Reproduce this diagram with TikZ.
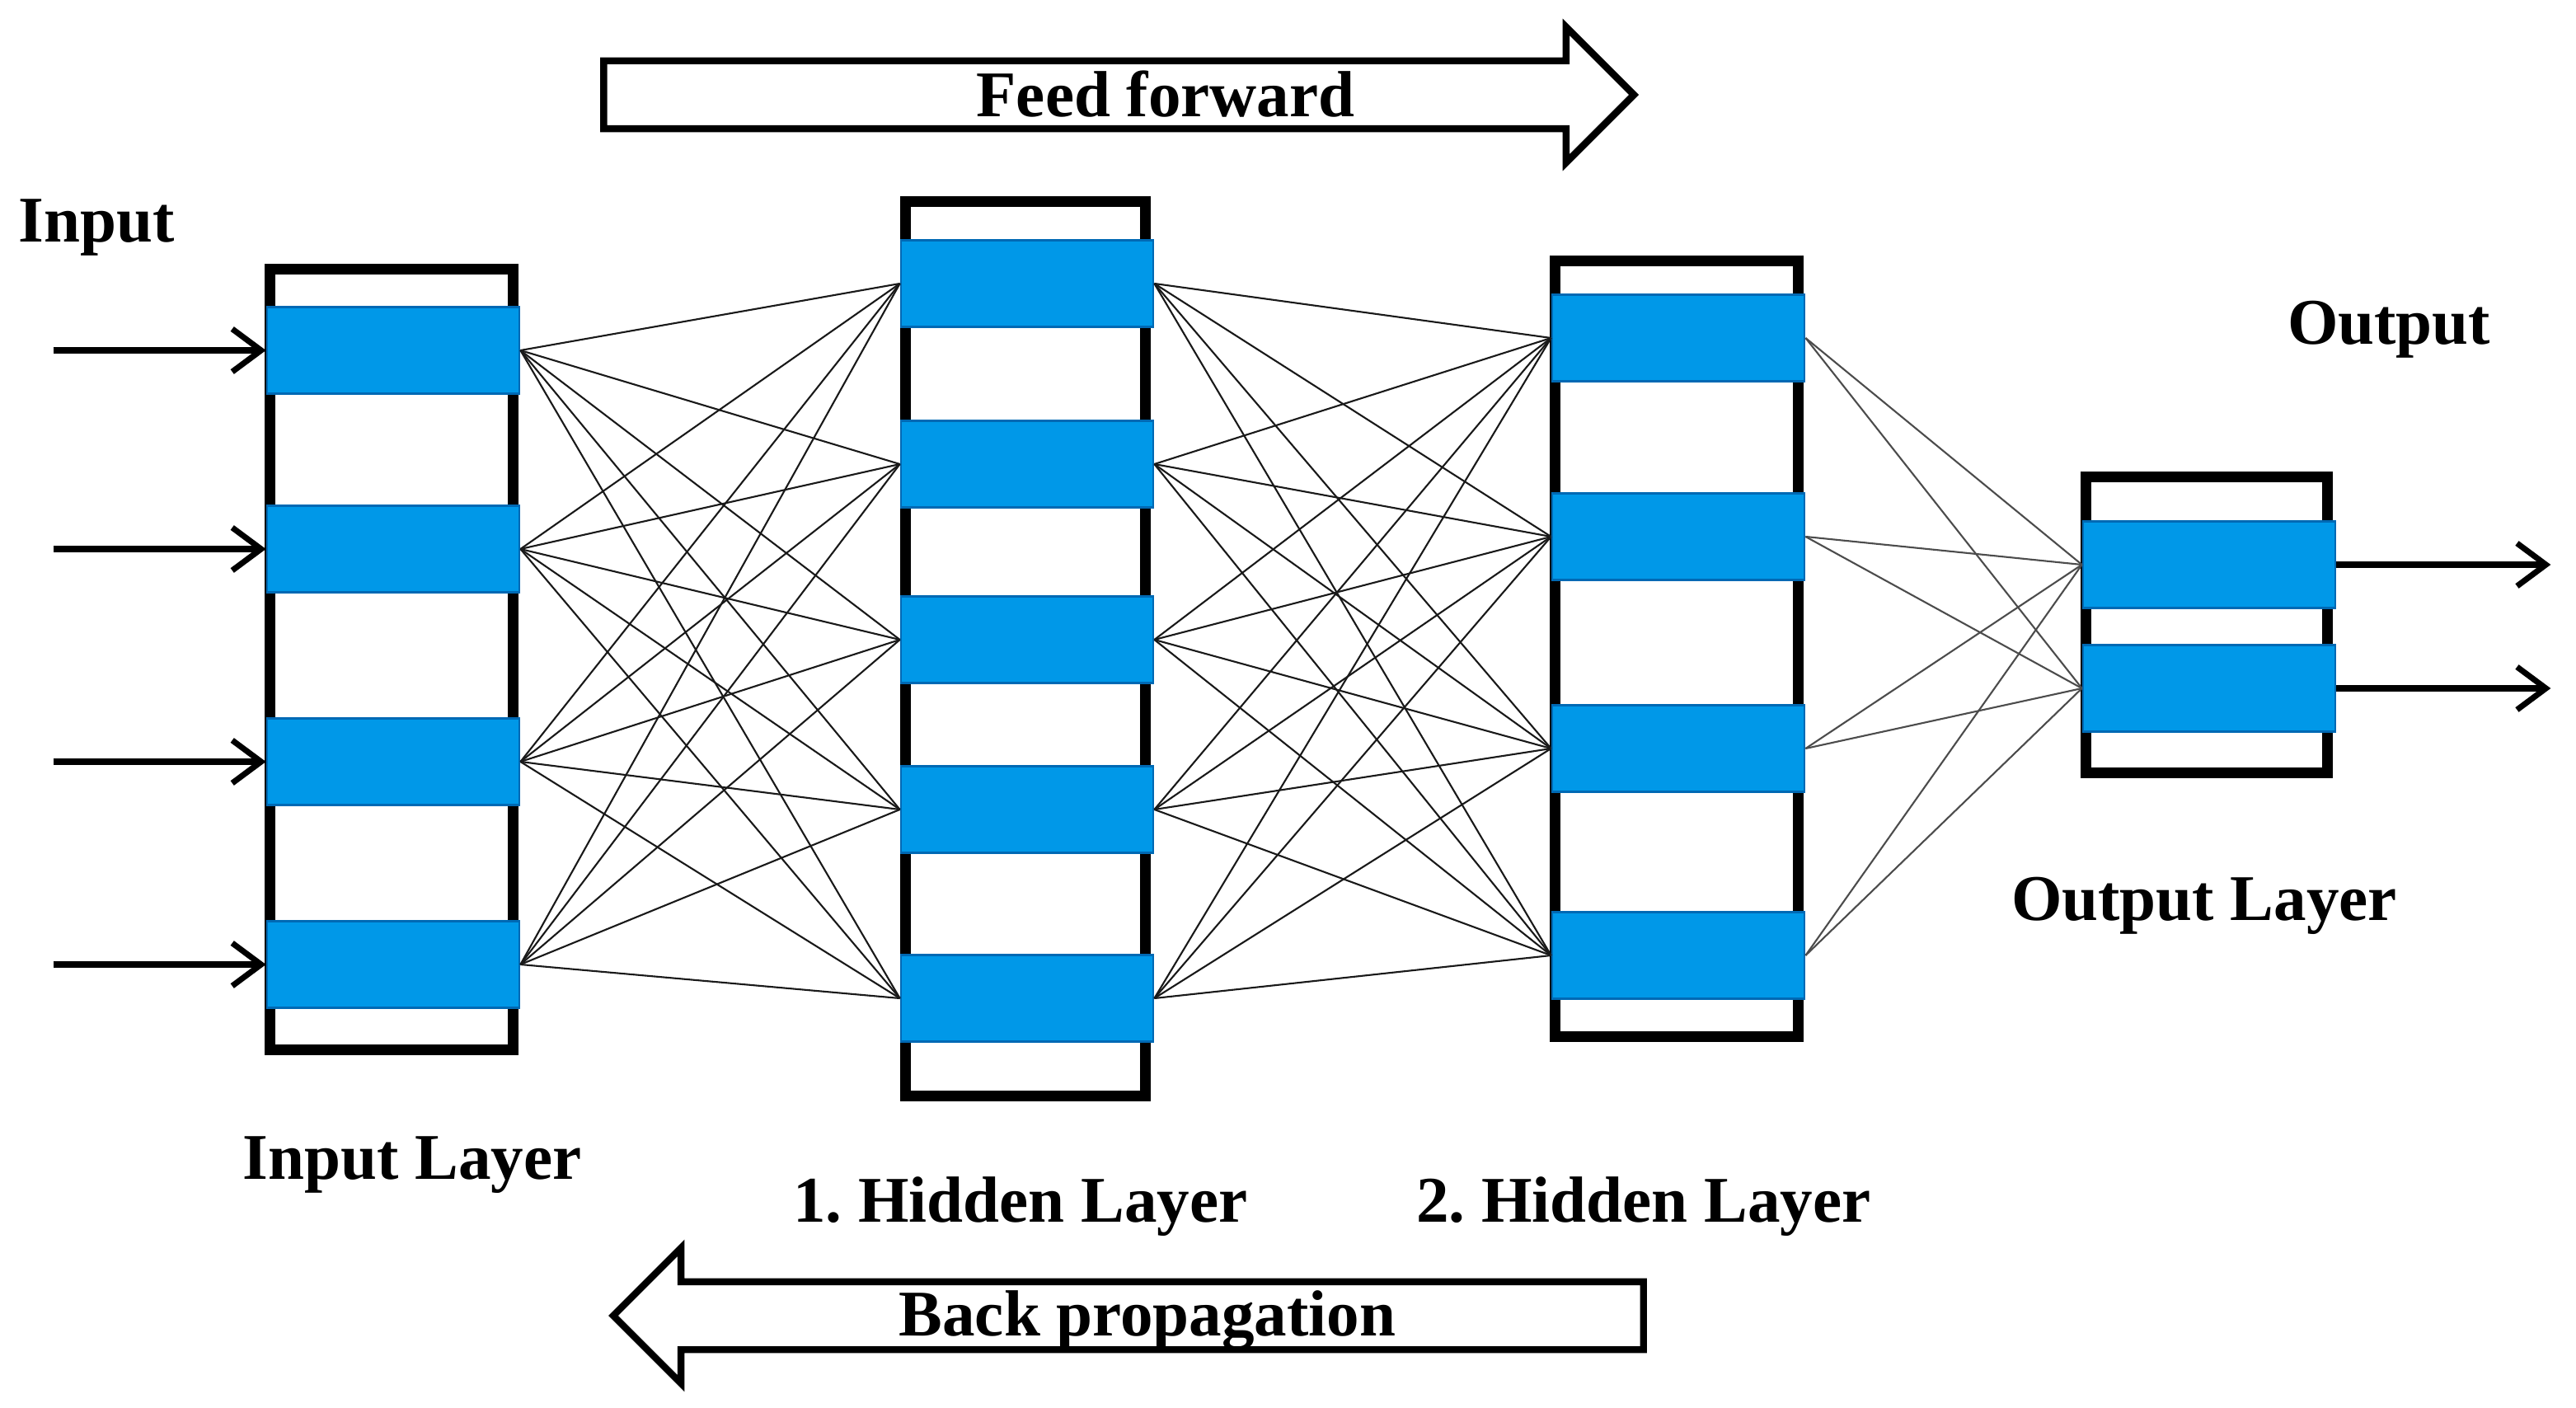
\documentclass[tikz,border=0pt]{standalone}
\usepackage{fontspec}
\setmainfont{Liberation Serif}
\usepackage{tikz}
\usetikzlibrary{positioning}
\usetikzlibrary{arrows.meta}
\usetikzlibrary{shapes.arrows}
\definecolor{barblue}{RGB}{0,152,232}
\definecolor{barline}{RGB}{0,105,180}
\begin{document}
\begin{tikzpicture}[x=0.02cm,y=-0.02cm]
\tikzstyle{frame}=[rectangle,draw,line width=3.6pt,fill=white,inner sep=0pt]
\tikzstyle{bar}=[rectangle,draw=barline,line width=0.8pt,fill=barblue,minimum width=3.06cm,minimum height=1.05cm,inner sep=0pt]
\tikzstyle{link}=[line width=0.6pt,black!90]
\tikzstyle{ioarrow}=[line width=2pt,-{Straight Barb[length=3.5mm,width=5.2mm]}]
\tikzstyle{bigarrow}=[single arrow,draw,line width=2.4pt,fill=white,inner xsep=0pt,inner ysep=0.37cm,single arrow head extend=0.41cm,single arrow tip angle=90,minimum height=12.5cm,anchor=tip]
\tikzstyle{lbl}=[font=\fontsize{22.5}{27}\selectfont\bfseries,inner sep=0pt,anchor=base]
\useasboundingbox (0,0) rectangle (1562.5,854);
% layers
\node[frame,minimum width=2.95cm,minimum height=9.47cm] at(237.5, 400) (inframe) {};
\node[frame,minimum width=2.91cm,minimum height=10.85cm] at(622, 393.5) (hidaframe) {};
\node[frame,minimum width=2.95cm,minimum height=9.41cm] at(1017, 393.5) (hidbframe) {};
\node[frame,minimum width=2.93cm,minimum height=3.59cm] at(1338.5, 379) (outframe) {};
\foreach \y [count=\i] in {212.5,333,462,585}
  \node[bar] at(238.5, \y) (in\i) {};
\foreach \y [count=\i] in {172,281.5,388,491,605.5}
  \node[bar] at(623, \y) (hida\i) {};
\foreach \y [count=\i] in {205,325.5,454,579.5}
  \node[bar] at(1018, \y) (hidb\i) {};
\foreach \y [count=\i] in {342.5,417.5}
  \node[bar] at(1340, \y) (out\i) {};
% weights
\foreach \i in {1,...,4}
  \foreach \j in {1,...,5}
    \draw[link] (in\i.east) -- (hida\j.west);
\foreach \i in {1,...,5}
  \foreach \j in {1,...,4}
    \draw[link] (hida\i.east) -- (hidb\j.west);
\foreach \i in {1,...,4}
  \foreach \j in {1,2}
    \draw[link,black!70] (hidb\i.east) -- (out\j.west);
% inputs and outputs
\foreach \i in {1,...,4} {
  \coordinate[left=2.58cm of in\i.west] (x\i);
  \draw[ioarrow] (x\i) -- (in\i.west);
}
\foreach \i in {1,2} {
  \coordinate[right=2.6cm of out\i.east] (y\i);
  \draw[ioarrow] (out\i.east) -- (y\i);
}
% feed forward / back propagation
\node[bigarrow] at(994, 57.5) (ff) {};
\node[bigarrow,shape border rotate=180] at(369, 798) (bp) {};
\node[lbl] at(707, 71) (fftext) {Feed forward};
\node[lbl] at(696, 810) (bptext) {Back propagation};
% labels
\node[lbl,anchor=base west] at(11, 147) (intext) {Input};
\node[lbl] at(1449, 209) (outtext) {Output};
\node[lbl] at(250, 715) (inlayer) {Input Layer};
\node[lbl] at(619, 741) (hidalayer) {1.\ Hidden Layer};
\node[lbl] at(997, 741) (hidblayer) {2.\ Hidden Layer};
\node[lbl] at(1337, 558) (outlayer) {Output Layer};
\end{tikzpicture}
\end{document}
